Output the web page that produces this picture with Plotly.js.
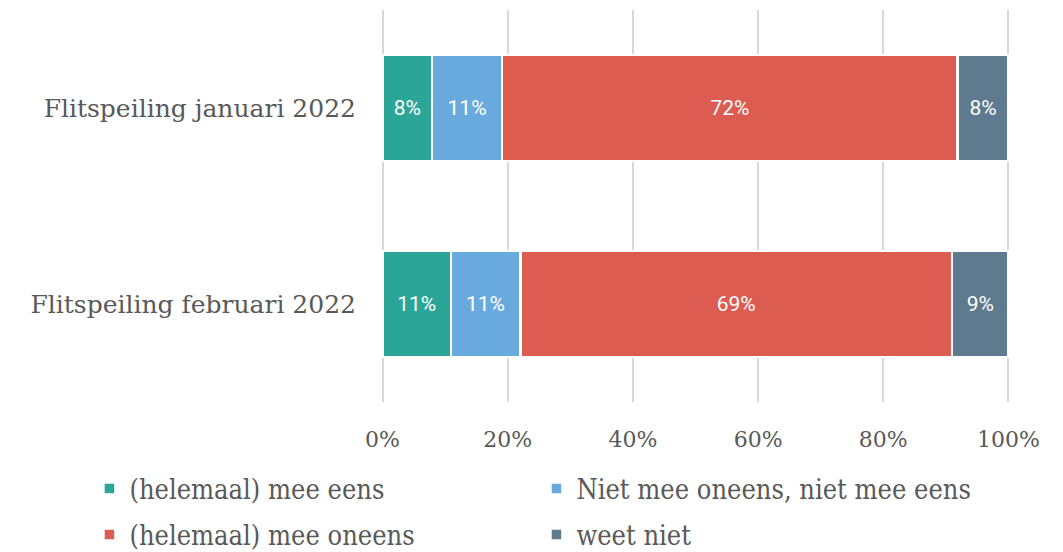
<!DOCTYPE html>
<html>
<head>
<meta charset="utf-8">
<script src="https://cdn.plot.ly/plotly-3.0.1.min.js"></script>
<style>html,body{margin:0;padding:0;background:#fff;}#chart{width:1063px;height:552px;}</style>
</head>
<body>
<div id="chart"></div>
<script>
const categories = ["Flitspeiling januari 2022", "Flitspeiling februari 2022"];
const seriesNames = ["(helemaal) mee eens", "Niet mee oneens, niet mee eens", "(helemaal) mee oneens", "weet niet"];
const meeEens = [7.9, 10.9];
const neutraal = [11.2, 11.1];
const meeOneens = [72.8, 69.0];
const weetNiet = [8.1, 9.0];
const labelsMeeEens = ["8%", "11%"];
const labelsNeutraal = ["11%", "11%"];
const labelsMeeOneens = ["72%", "69%"];
const labelsWeetNiet = ["8%", "9%"];
const xTickVals = [0, 20, 40, 60, 80, 100];
const xTickText = ["0%", "20%", "40%", "60%", "80%", "100%"];

const colors = ["#2aa598", "#69aade", "#dd5c52", "#5e7a8e"];
const values = [meeEens, neutraal, meeOneens, weetNiet];
const labels = [labelsMeeEens, labelsNeutraal, labelsMeeOneens, labelsWeetNiet];
const legendIds = ["legend", "legend", "legend2", "legend2"];

const traces = seriesNames.map((name, i) => ({
  type: "bar",
  orientation: "h",
  name: name,
  y: categories,
  x: values[i],
  text: labels[i],
  texttemplate: "%{text}",
  textposition: "inside",
  insidetextanchor: "middle",
  textangle: 0,
  constraintext: "none",
  textfont: {family: "Roboto, sans-serif", size: 21, color: "#ffffff"},
  marker: {color: colors[i], line: {color: "#ffffff", width: 2.5}},
  legend: legendIds[i],
  hoverinfo: "none"
}));

const legendFont = {family: "'DejaVu Serif Condensed', 'DejaVu Serif', serif", size: 27, color: "#595959"};

const layout = {
  width: 1063,
  height: 552,
  margin: {l: 381.4, r: 53.4, t: 10, b: 150, autoexpand: false},
  paper_bgcolor: "#ffffff",
  plot_bgcolor: "#ffffff",
  barmode: "stack",
  bargap: 0.46,
  showlegend: true,
  xaxis: {
    range: [-0.25, 100.25],
    tickvals: xTickVals,
    ticktext: xTickText,
    showgrid: true,
    gridcolor: "#d9d9d9",
    gridwidth: 2,
    zeroline: false,
    showline: false,
    ticks: "",
    ticklabelstandoff: 22,
    tickfont: {family: "'DejaVu Serif', serif", size: 22, color: "#595959"},
    fixedrange: true
  },
  yaxis: {
    type: "category",
    autorange: "reversed",
    showgrid: false,
    zeroline: false,
    showline: false,
    ticks: "",
    ticklabelstandoff: 24,
    tickfont: {family: "'DejaVu Serif', serif", size: 25, color: "#595959"},
    fixedrange: true
  },
  legend: {
    orientation: "h",
    traceorder: "normal",
    x: -0.4635, xanchor: "left",
    y: -0.222, yanchor: "middle",
    entrywidth: 402, entrywidthmode: "pixels",
    font: legendFont,
    itemclick: false, itemdoubleclick: false,
    bgcolor: "rgba(0,0,0,0)"
  },
  legend2: {
    orientation: "h",
    traceorder: "normal",
    x: -0.4635, xanchor: "left",
    y: -0.339, yanchor: "middle",
    entrywidth: 402, entrywidthmode: "pixels",
    font: legendFont,
    itemclick: false, itemdoubleclick: false,
    bgcolor: "rgba(0,0,0,0)"
  }
};

Plotly.newPlot("chart", traces, layout, {displayModeBar: false, staticPlot: true});
</script>
</body>
</html>
